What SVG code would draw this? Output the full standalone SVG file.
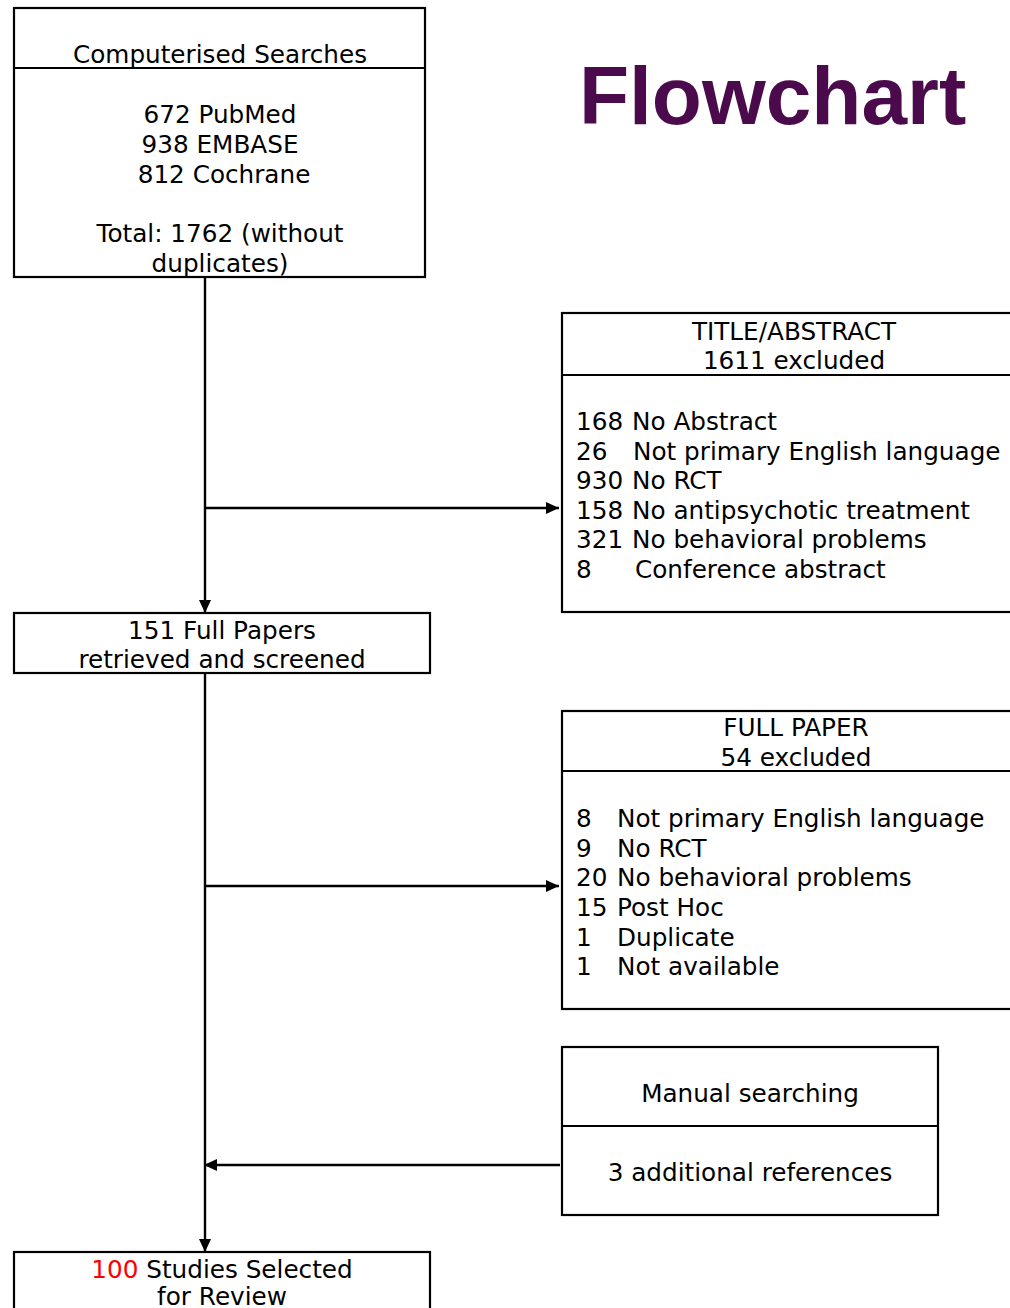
<svg xmlns="http://www.w3.org/2000/svg" width="1010" height="1308" viewBox="0 0 1010 1308">
<defs>
<style>
.box{fill:#fff;stroke:#000;stroke-width:2.2}
.div{stroke:#000;stroke-width:2.2}
.t{font-family:"DejaVu Sans",Verdana,sans-serif;font-size:24.7px;fill:#000}
.m{text-anchor:middle}
.con{stroke:#000;stroke-width:2.4;fill:none;marker-end:url(#ah)}
</style>
<marker id="ah" viewBox="0 0 13 12" refX="13" refY="6" markerWidth="13" markerHeight="12" markerUnits="userSpaceOnUse" orient="auto">
<path d="M0,0 L13,6 L0,12 Z" fill="#000"/>
</marker>
</defs>
<rect width="1010" height="1308" fill="#fff"/>
<text x="579" y="124" font-family="'Liberation Sans',Arial,sans-serif" font-weight="bold" font-size="82" fill="#4B0A4B">Flowchart</text>

<g id="connectors">
<line class="con" x1="205" y1="277" x2="205" y2="613"/>
<line class="con" x1="205" y1="508" x2="559" y2="508"/>
<line class="con" x1="205" y1="673" x2="205" y2="1252"/>
<line class="con" x1="205" y1="886" x2="559" y2="886"/>
<line class="con" x1="560" y1="1165" x2="204" y2="1165"/>
</g>

<g id="searches">
<rect class="box" x="14" y="8" width="411" height="269"/>
<line class="div" x1="14" y1="68" x2="425" y2="68"/>
<text class="t m" x="220" y="63">Computerised Searches</text>
<text class="t m" x="220" y="123">672 PubMed</text>
<text class="t m" x="220" y="153">938 EMBASE</text>
<text class="t m" x="224" y="183">812 Cochrane</text>
<text class="t m" x="220" y="242">Total: 1762 (without</text>
<text class="t m" x="220" y="272">duplicates)</text>
</g>

<g id="title-abstract">
<rect class="box" x="562" y="313" width="460" height="299"/>
<line class="div" x1="562" y1="375" x2="1012" y2="375"/>
<text class="t m" x="794" y="340">TITLE/ABSTRACT</text>
<text class="t m" x="794" y="369">1611 excluded</text>
<text class="t" x="576" y="430">168 <tspan x="632">No Abstract</tspan></text>
<text class="t" x="576" y="460">26<tspan x="633">Not primary English language</tspan></text>
<text class="t" x="576" y="489">930 <tspan x="632">No RCT</tspan></text>
<text class="t" x="576" y="519">158 <tspan x="632">No antipsychotic treatment</tspan></text>
<text class="t" x="576" y="548">321 <tspan x="632">No behavioral problems</tspan></text>
<text class="t" x="576" y="578">8<tspan x="635">Conference abstract</tspan></text>
</g>

<g id="full-papers">
<rect class="box" x="14" y="613" width="416" height="60"/>
<text class="t m" x="222" y="639">151 Full Papers</text>
<text class="t m" x="222" y="668">retrieved and screened</text>
</g>

<g id="full-paper-excluded">
<rect class="box" x="562" y="711" width="460" height="298"/>
<line class="div" x1="562" y1="771" x2="1012" y2="771"/>
<text class="t m" x="796" y="736">FULL PAPER</text>
<text class="t m" x="796" y="766">54 excluded</text>
<text class="t" x="576" y="827">8<tspan x="617">Not primary English language</tspan></text>
<text class="t" x="576" y="857">9<tspan x="617">No RCT</tspan></text>
<text class="t" x="576" y="886">20 <tspan x="617">No behavioral problems</tspan></text>
<text class="t" x="576" y="916">15 <tspan x="617">Post Hoc</tspan></text>
<text class="t" x="576" y="946">1<tspan x="617">Duplicate</tspan></text>
<text class="t" x="576" y="975">1<tspan x="617">Not available</tspan></text>
</g>

<g id="manual">
<rect class="box" x="562" y="1047" width="376" height="168"/>
<line class="div" x1="562" y1="1126" x2="938" y2="1126"/>
<text class="t m" x="750" y="1102">Manual searching</text>
<text class="t m" x="750" y="1181">3 additional references</text>
</g>

<g id="selected">
<rect class="box" x="14" y="1252" width="416" height="70"/>
<text class="t m" x="222" y="1278"><tspan fill="#ff0000">100</tspan> Studies Selected</text>
<text class="t m" x="222" y="1305">for Review</text>
</g>
</svg>
